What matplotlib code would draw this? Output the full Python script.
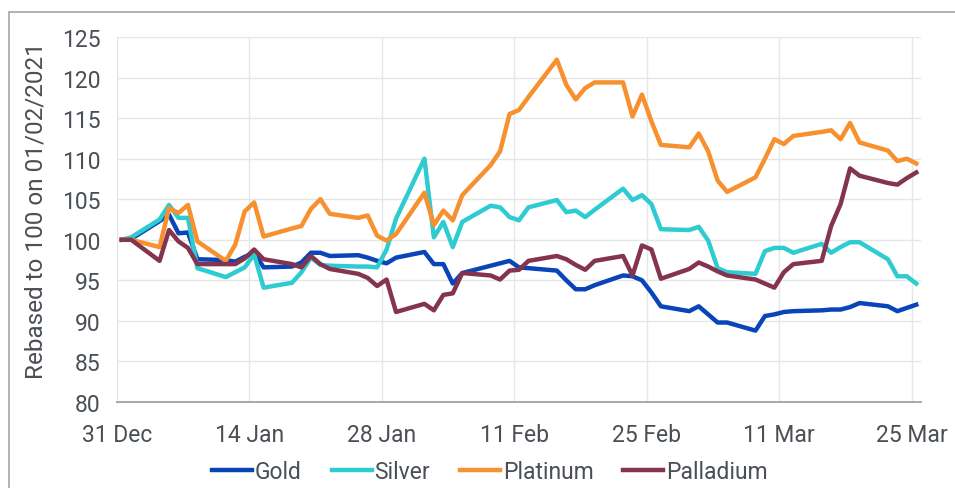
import matplotlib
matplotlib.use("Agg")
import matplotlib.pyplot as plt
import pandas as pd
from matplotlib.patches import Rectangle

plt.rcParams['font.family'] = ['Roboto', 'DejaVu Sans']

# trading days 31 Dec 2020 - 25 Mar 2021 (weekdays)
dates = pd.bdate_range("2020-12-31", "2021-03-25") + pd.Timedelta(hours=12)

gold = [100, 100.1,
        102.3, 103.1, 100.8, 100.9, 97.6,
        97.5, 97.3, 97.9, 98.4, 96.6,
        96.7, 97.2, 98.4, 98.4, 98.0,
        98.1, 97.8, 97.4, 97.1, 97.8,
        98.5, 97.0, 97.0, 94.6, 95.9,
        96.8, 97.1, 97.4, 96.6, 96.5,
        96.2, 95.0, 93.9, 93.9, 94.4,
        95.6, 95.5, 95.0, 93.5, 91.8,
        91.2, 91.8, 90.8, 89.8, 89.8,
        88.8, 90.6, 90.8, 91.1, 91.2,
        91.3, 91.4, 91.4, 91.7, 92.2,
        91.8, 91.2, 91.6, 92.0]

silver = [100, 100.3,
          102.5, 104.3, 102.7, 102.7, 96.5,
          95.4, 96.0, 96.6, 98.2, 94.1,
          94.7, 96.0, 97.8, 96.9, 96.8,
          96.7, 96.7, 96.6, 98.8, 102.6,
          110.0, 100.3, 102.2, 99.1, 102.2,
          104.2, 104.0, 102.8, 102.4, 104.0,
          104.9, 103.4, 103.6, 102.8, 103.7,
          106.3, 104.9, 105.5, 104.4, 101.3,
          101.2, 101.6, 99.9, 96.5, 96.0,
          95.8, 98.6, 99.0, 99.0, 98.4,
          99.5, 98.4, 99.1, 99.7, 99.7,
          97.6, 95.5, 95.5, 94.6]

platinum = [100, 100.0,
            99.1, 103.9, 103.3, 104.3, 99.8,
            97.4, 99.4, 103.5, 104.6, 100.4,
            101.4, 101.7, 103.8, 105.0, 103.2,
            102.7, 103.0, 100.5, 99.9, 100.7,
            105.8, 101.8, 103.6, 102.4, 105.5,
            109.2, 110.9, 115.5, 116.0, 117.6,
            122.2, 119.1, 117.3, 118.7, 119.4,
            119.4, 115.2, 117.9, 114.6, 111.7,
            111.4, 113.1, 110.9, 107.3, 105.9,
            107.7, 110.0, 112.4, 111.8, 112.8,
            113.3, 113.5, 112.4, 114.4, 112.0,
            111.0, 109.7, 110.0, 109.4]

palladium = [100, 100,
             97.4, 101.2, 99.8, 99.0, 97.0,
             97.0, 97.0, 97.7, 98.8, 97.6,
             97.0, 96.6, 98.0, 97.0, 96.4,
             95.8, 95.3, 94.3, 95.1, 91.1,
             92.1, 91.3, 93.2, 93.4, 95.9,
             95.6, 95.1, 96.2, 96.3, 97.4,
             98.0, 97.6, 96.9, 96.3, 97.4,
             98.0, 95.6, 99.3, 98.8, 95.2,
             96.4, 97.2, 96.7, 96.1, 95.6,
             95.1, 94.6, 94.1, 96.0, 97.0,
             97.4, 101.7, 104.4, 108.8, 107.9,
             107.0, 106.8, 107.6, 108.3]

series = [("Gold", gold, "#0a45b8"),
          ("Silver", silver, "#2ecbd1"),
          ("Platinum", platinum, "#f7902f"),
          ("Palladium", palladium, "#84344f")]

tick_dates = pd.to_datetime(["2020-12-31", "2021-01-14", "2021-01-28", "2021-02-11",
                             "2021-02-25", "2021-03-11", "2021-03-25"])
tick_labels = ["31 Dec", "14 Jan", "28 Jan", "11 Feb", "25 Feb", "11 Mar", "25 Mar"]

fig = plt.figure(figsize=(9.55, 4.89), dpi=100)
ax = fig.add_axes([117/955, 1 - 403/489, (921 - 117)/955, (403 - 38)/489])

for name, vals, col in series:
    ax.plot(dates, vals, color=col, lw=3.2, label=name)

ax.set_xlim(pd.Timestamp("2020-12-31"), pd.Timestamp("2021-03-26"))
ax.set_ylim(80, 125)
ax.set_yticks(range(80, 126, 5))
ax.set_xticks(tick_dates)
ax.set_xticklabels(tick_labels)

ax.grid(True, color="#e4e6e8", lw=1.0)
ax.set_axisbelow(True)
for s in ["top", "right", "left"]:
    ax.spines[s].set_visible(False)
ax.spines["bottom"].set_color("#a8a8a8")
ax.spines["bottom"].set_linewidth(1.4)
ax.tick_params(axis="both", length=0, labelsize=16.5, labelcolor="#4a4f55")
ax.tick_params(axis="x", pad=15)
ax.tick_params(axis="y", pad=12)
ax.set_ylabel("Rebased to 100 on 01/02/2021", fontsize=17.5, color="#4a4f55")
ax.yaxis.set_label_coords(-0.087, 0.528)

fig.legend(loc="center", bbox_to_anchor=(0.513, 1 - 473/489), ncol=4, frameon=False,
           fontsize=16.5, handlelength=1.75, handletextpad=0.12, columnspacing=1.3,
           labelcolor="#4a4f55")

# outer frame
fig.patches.append(Rectangle((9/955, -0.1), 1.2, 1.1 - 13/489, transform=fig.transFigure,
                             fill=False, edgecolor="#a6a6a6", lw=1.2))

fig.savefig("out.png", dpi=100)
